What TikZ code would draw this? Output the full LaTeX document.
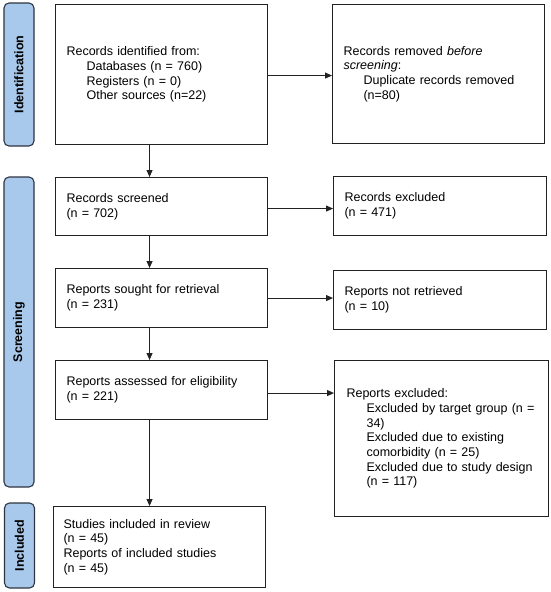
\documentclass[tikz,border=0pt]{standalone}
\usepackage{fontspec}
\setmainfont{Liberation Sans}
\usetikzlibrary{arrows.meta}
\definecolor{barfill}{HTML}{A9C9EC}
\definecolor{barline}{HTML}{2E3440}
\definecolor{boxline}{HTML}{222222}
\begin{document}
\begin{tikzpicture}[x=1pt,y=-1pt,
  every node/.style={font=\fontsize{12.5}{14.7}\selectfont},
  box/.style={draw=boxline, line width=1.1pt, rectangle, anchor=north west,
    inner xsep=11pt, inner ysep=2pt, align=left},
  bar/.style={draw=barline, fill=barfill, line width=1.1pt, rounded corners=5pt,
    rotate=90, minimum height=30pt, inner sep=0pt,
    font=\fontsize{12.5}{14.7}\selectfont\bfseries},
  arr/.style={draw=boxline, line width=1pt, -{Triangle[length=7pt,width=6pt]}}]
\useasboundingbox (0,0) rectangle (550,592);
\fill[white] (0,0) rectangle (550,592);
% phase bars
\node[bar, minimum width=143pt] (pid) at (19,74.5) {Identification};
\node[bar, minimum width=310pt] (psc) at (19,332) {Screening};
\node[bar, minimum width=85pt] (pin) at (19.5,545.5) {Included};
% boxes
\node[box, text width=190pt, minimum height=140pt] (b1) at (55,4)
  {Records identified from:\\\hspace*{20pt}Databases (n = 760)\\\hspace*{20pt}Registers (n = 0)\\\hspace*{20pt}Other sources (n=22)};
\node[box, text width=190pt, minimum height=139pt] (b2) at (332,4)
  {Records removed \textit{before}\\\textit{screening}:\\\hspace*{20pt}Duplicate records removed\\\hspace*{20pt}(n=80)};
\node[box, text width=190pt, minimum height=58pt] (b3) at (55,177)
  {Records screened\\(n = 702)};
\node[box, text width=191pt, minimum height=59pt] (b4) at (333,176)
  {Records excluded\\(n = 471)};
\node[box, text width=190pt, minimum height=59pt] (b5) at (55,268)
  {Reports sought for retrieval\\(n = 231)};
\node[box, text width=191pt, minimum height=59pt] (b6) at (333,270)
  {Reports not retrieved\\(n = 10)};
\node[box, text width=190pt, minimum height=59pt] (b7) at (55,360)
  {Reports assessed for eligibility\\(n = 221)};
\node[box, text width=190pt, minimum height=156pt, inner xsep=12pt] (b8) at (334,360)
  {Reports excluded:\\\hspace*{20pt}Excluded by target group (n =\\\hspace*{20pt}34)\\\hspace*{20pt}Excluded due to existing\\\hspace*{20pt}comorbidity (n = 25)\\\hspace*{20pt}Excluded due to study design\\\hspace*{20pt}(n = 117)};
\node[box, text width=192pt, minimum height=81pt, inner xsep=10pt] (b9) at (53,506)
  {Studies included in review\\(n = 45)\\Reports of included studies\\(n = 45)};
% horizontal arrows
\draw[arr] ([yshift=-1pt]b1.east) -- ([yshift=-1pt]b1.east -| b2.west);
\draw[arr] ([yshift=-2pt]b3.east) -- ([yshift=-2pt]b3.east -| b4.west);
\draw[arr] (b5.east) -- (b5.east -| b6.west);
\draw[arr] ([yshift=-3pt]b7.east) -- ([yshift=-3pt]b7.east -| b8.west);
% vertical arrows
\draw[arr] ([xshift=-12pt]b1.south) -- ([xshift=-12pt]b1.south |- b3.north);
\draw[arr] ([xshift=-12pt]b3.south) -- ([xshift=-12pt]b3.south |- b5.north);
\draw[arr] ([xshift=-12pt]b5.south) -- ([xshift=-12pt]b5.south |- b7.north);
\draw[arr] ([xshift=-12pt]b7.south) -- ([xshift=-12pt]b7.south |- b9.north);
\end{tikzpicture}
\end{document}
